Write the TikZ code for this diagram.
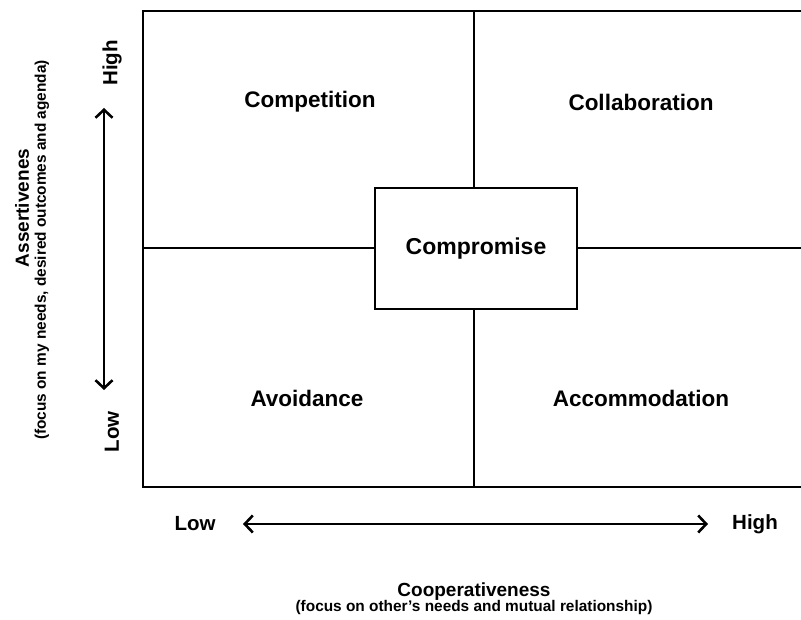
\documentclass[tikz,border=0pt]{standalone}
\usepackage{fontspec}
\setmainfont{Liberation Sans}
\usetikzlibrary{arrows.meta}
\begin{document}
\begin{tikzpicture}[x=1pt,y=1pt,
  frame/.style={line width=2.6pt,line cap=rect},
  quad/.style={font=\fontsize{22.5}{26}\selectfont\bfseries},
  axislab/.style={font=\fontsize{20.5}{24}\selectfont\bfseries},
  axtitle/.style={font=\fontsize{19}{21}\selectfont\bfseries},
  axsub/.style={font=\fontsize{15.4}{17}\selectfont\bfseries},
  dblarrow/.style={line width=2.6pt,{Straight Barb[length=8pt,width=17pt,line width=2.6pt]}-{Straight Barb[length=8pt,width=17pt,line width=2.6pt]}}]
\useasboundingbox (0,0) rectangle (801,620);
% frame
\coordinate (tl) at (143,609);
\coordinate (tr) at (801,609);
\coordinate (bl) at (143,133);
\coordinate (br) at (801,133);
\draw[frame] (tr) -- (tl) -- (bl) -- (br);
% compromise box
\node[draw,line width=2.6pt,minimum width=202pt,minimum height=121pt,inner sep=0pt,
  font=\fontsize{23}{26}\selectfont\bfseries] (comp) at (476,371.5) {Compromise};
\coordinate (ml) at (143,372);
\coordinate (mr) at (801,372);
\coordinate (mt) at (474,609);
\coordinate (mb) at (474,133);
\draw[frame] (ml) -- (comp.west |- ml);
\draw[frame] (comp.east |- mr) -- (mr);
\draw[frame] (mt) -- (mt |- comp.north);
\draw[frame] (mb |- comp.south) -- (mb);
% quadrant labels
\node[quad] (competition) at (310,518) {Competition};
\node[quad] (collaboration) at (641,518) {Collaboration};
\node[quad] (avoidance) at (307,222) {Avoidance};
\node[quad] (accommodation) at (641,222) {Accommodation};
% vertical axis
\node[axislab,rotate=90] (vhigh) at (112,557) {High};
\node[axislab,rotate=90] (vlow) at (112,188) {Low};
\coordinate (vtop) at (104,512);
\coordinate (vbot) at (104,230);
\draw[dblarrow] (vbot) -- (vtop);
\node[axtitle,rotate=90] (asst) at (22,412) {Assertivenes};
\node[axsub,rotate=90] (asssub) at (42,370) {(focus on my needs, desired outcomes and agenda)};
% horizontal axis
\node[axislab] (hlow) at (195,96) {Low};
\node[axislab] (hhigh) at (755,96) {High};
\coordinate (hl) at (243,96);
\coordinate (hr) at (708,96);
\draw[dblarrow] (hl) -- (hr);
\node[axtitle] (coop) at (474,28) {Cooperativeness};
\node[axsub] (coopsub) at (474,12) {(focus on other's needs and mutual relationship)};
\end{tikzpicture}
\end{document}
